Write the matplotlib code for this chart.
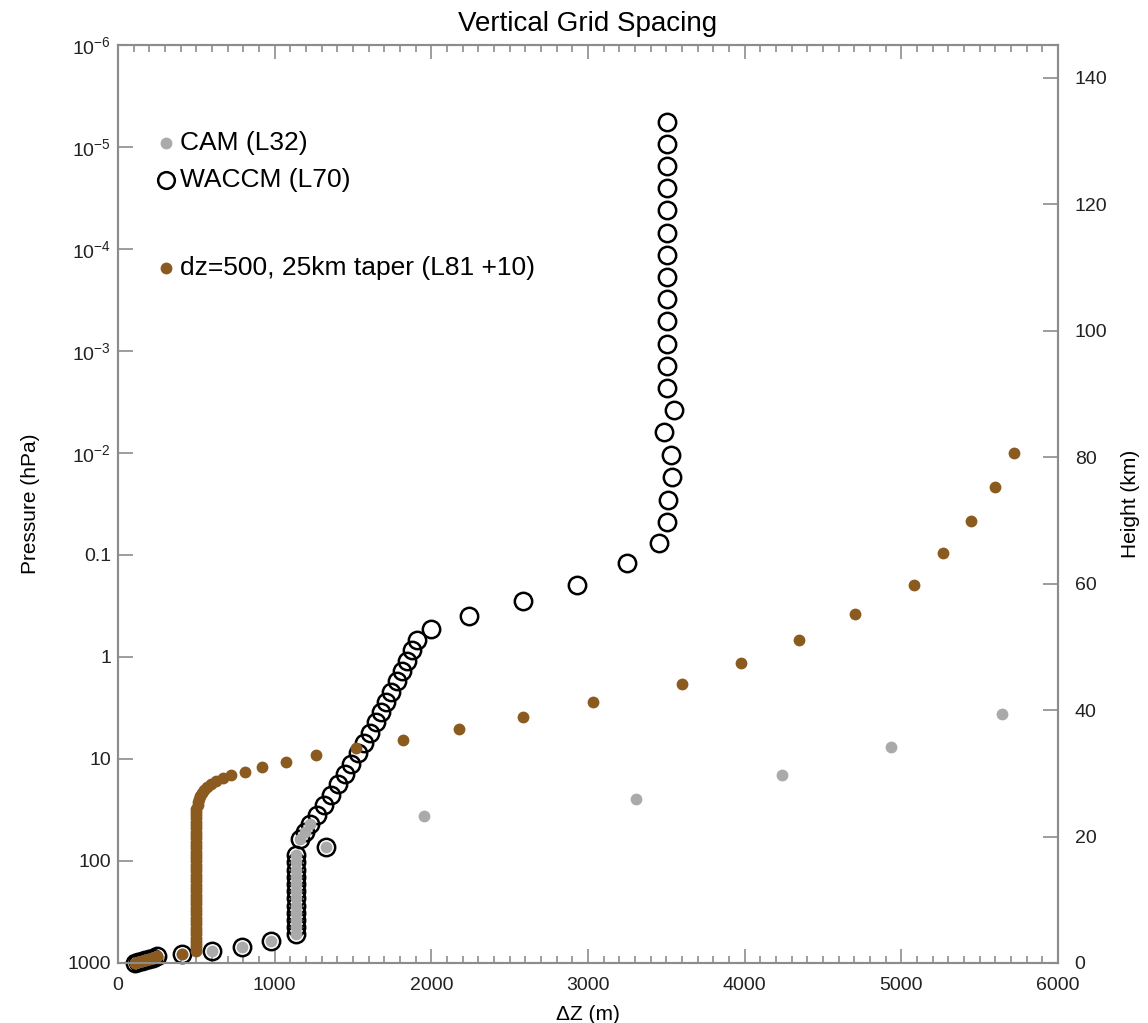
import matplotlib
matplotlib.use('Agg')
import matplotlib.pyplot as plt
from matplotlib.ticker import FixedLocator, MultipleLocator, NullLocator

plt.rcParams['font.family'] = ['Liberation Sans', 'DejaVu Sans']
plt.rcParams['mathtext.fontset'] = 'custom'
plt.rcParams['mathtext.rm'] = 'Liberation Sans'
plt.rcParams['mathtext.it'] = 'Liberation Sans'

# CAM (L32) levels: pressure (hPa) and layer thickness (m)
cam_p = [3.64, 7.59, 14.36, 24.61, 35.92, 43.19, 51.68, 61.52, 73.75, 87.82,
         103.32, 121.55, 142.99, 168.23, 197.91, 232.83, 273.91, 322.24, 379.10, 445.99,
         524.69, 609.78, 691.39, 763.40, 820.86, 859.53, 887.02, 912.64, 936.20, 957.49,
         976.33, 992.56]
cam_dz = [5645, 4936, 4240, 3308, 1954, 1226, 1194, 1162, 1328, 1137,
          1137, 1137, 1137, 1137, 1137, 1137, 1137, 1137, 1137, 1137,
          1137, 977, 792, 600, 409, 250, 225, 200, 175, 150,
          130, 110]

# WACCM (L70) levels
waccm_p = [5.69e-6, 9.35e-6, 1.54e-5, 2.52e-5, 4.15e-5, 6.97e-5, 1.15e-4, 1.88e-4,
           3.09e-4, 5.08e-4, 8.53e-4, 1.40e-3, 2.31e-3, 3.79e-3, 6.22e-3, 1.05e-2,
           1.72e-2, 2.89e-2, 4.75e-2, 7.62e-2, 0.120, 0.197, 0.282, 0.396, 0.531,
           0.681, 0.854, 1.094, 1.372, 1.719, 2.204, 2.762, 3.46, 4.34, 5.56,
           6.97, 8.73, 11.2, 14.0, 17.6, 22.5, 28.2, 35.4,
           43.19, 51.68, 61.52, 73.75, 87.82,
           103.32, 121.55, 142.99, 168.23, 197.91, 232.83, 273.91, 322.24, 379.10, 445.99,
           524.69, 609.78, 691.39, 763.40, 820.86, 859.53, 887.02, 912.64, 936.20, 957.49,
           976.33, 992.56]
waccm_dz = [3505, 3505, 3505, 3505, 3505, 3505, 3505, 3505,
            3505, 3505, 3505, 3505, 3505, 3551, 3487, 3531,
            3538, 3512, 3506, 3455, 3250, 2931, 2586, 2241, 1999,
            1909, 1877, 1842, 1810, 1778, 1743, 1711, 1680, 1648, 1609,
            1571, 1533, 1488, 1446, 1405, 1357, 1312, 1268,
            1226, 1194, 1162, 1328, 1137,
            1137, 1137, 1137, 1137, 1137, 1137, 1137, 1137, 1137, 1137,
            1137, 977, 792, 600, 409, 250, 225, 200, 175, 150,
            130, 110]

# dz=500, 25km taper (L81 +10)
new_p = [0.01, 0.0215, 0.0464, 0.0956, 0.197, 0.379, 0.681, 1.15, 1.84,
         2.76, 3.88, 5.08, 6.51, 7.80, 9.14, 10.70, 11.98, 13.41, 14.35,
         15.36, 16.44, 17.59, 18.82, 20.13, 21.54, 23.06, 24.67, 26.40, 28.24,
         30.6, 32.9, 35.5, 38.3, 41.2, 44.4, 47.9, 51.6, 55.6, 59.9,
         64.5, 69.6, 74.9, 80.8, 87.0, 93.8, 101.1, 108.9, 117.3, 126.4,
         136.3, 146.8, 158.2, 170.5, 183.7, 198.0, 213.4, 229.9, 247.8, 267.0,
         287.7, 310.0, 334.1, 360.0, 387.9, 418.0, 450.4, 485.4, 523.1, 563.6,
         607.4, 654.5, 705.3, 760.0,
         820.86, 859.53, 887.02, 912.64, 936.20, 957.49, 976.33, 992.56]
new_dz = [5722, 5601, 5447, 5268, 5083, 4706, 4349, 3978, 3602,
          3033, 2586, 2178, 1820, 1520, 1264, 1073, 920, 811, 722,
          671, 626, 594, 568, 549, 536, 524, 517, 511, 508,
          500, 500, 500, 500, 500, 500, 500, 500, 500, 500,
          500, 500, 500, 500, 500, 500, 500, 500, 500, 500,
          500, 500, 500, 500, 500, 500, 500, 500, 500, 500,
          500, 500, 500, 500, 500, 500, 500, 500, 500, 500,
          500, 500, 500, 500,
          409, 250, 225, 200, 175, 150, 130, 110]

p_ticks = [1e-6, 1e-5, 1e-4, 1e-3, 1e-2, 0.1, 1, 10, 100, 1000]
p_labels = ['$10^{-6}$', '$10^{-5}$', '$10^{-4}$', '$10^{-3}$', '$10^{-2}$',
            '0.1', '1', '10', '100', '1000']
h_ticks = [0, 20, 40, 60, 80, 100, 120, 140]

gray = '#aaaaaa'
brown = '#8a5a1f'
axcol = '#8c8c8c'

fig = plt.figure(figsize=(11.48, 10.23), dpi=100)
ax = fig.add_axes([0.1028, 0.0587, 0.8188, 0.8973])

ax.plot(waccm_dz, waccm_p, 'o', ms=12.5, mfc='none', mec='black', mew=1.8, zorder=2, clip_on=False)
ax.plot(cam_dz, cam_p, 'o', ms=8.5, color=gray, mec='none', zorder=3, clip_on=False)
ax.plot(new_dz, new_p, 'o', ms=8.5, color=brown, mec='none', zorder=4, clip_on=False)

ax.set_yscale('log')
ax.set_ylim(1000, 1e-6)
ax.set_xlim(0, 6000)
ax.yaxis.set_major_locator(FixedLocator(p_ticks))
ax.set_yticklabels(p_labels)
ax.yaxis.set_minor_locator(NullLocator())
ax.xaxis.set_major_locator(MultipleLocator(1000))
ax.xaxis.set_minor_locator(MultipleLocator(100))

ax.tick_params(axis='both', which='both', direction='in', color=axcol,
               labelcolor='#222222', labelsize=14, width=1.2)
ax.tick_params(axis='x', which='both', top=True, pad=10)
ax.tick_params(axis='x', which='major', length=10)
ax.tick_params(axis='x', which='minor', length=5)
ax.tick_params(axis='y', which='major', length=11, right=False, pad=5)
for s in ax.spines.values():
    s.set_color(axcol)
    s.set_linewidth(1.5)

ax.set_xlabel('\u0394Z (m)', fontsize=15, labelpad=8)
ax.set_ylabel('Pressure (hPa)', fontsize=15, labelpad=20)
ax.set_title('Vertical Grid Spacing', fontsize=20, pad=10)

# height axis on the right
ax2 = ax.twinx()
ax2.set_ylim(0, 145.2)
ax2.yaxis.set_major_locator(FixedLocator(h_ticks))
ax2.tick_params(axis='y', direction='in', length=11, color=axcol, width=1.2,
                labelcolor='#222222', labelsize=14, pad=12)
for s in ax2.spines.values():
    s.set_color(axcol)
    s.set_linewidth(1.5)
ax2.set_ylabel('Height (km)', fontsize=15, labelpad=10)

# legend drawn by hand
ax.plot([0.051], [0.893], 'o', ms=8.5, color=gray, mec='none', transform=ax.transAxes)
ax.text(0.066, 0.893, 'CAM (L32)', fontsize=19, va='center', transform=ax.transAxes)
ax.plot([0.051], [0.853], 'o', ms=12, mfc='none', mec='black', mew=1.8, transform=ax.transAxes)
ax.text(0.066, 0.853, 'WACCM (L70)', fontsize=19, va='center', transform=ax.transAxes)
ax.plot([0.051], [0.757], 'o', ms=8.5, color=brown, mec='none', transform=ax.transAxes)
ax.text(0.066, 0.757, 'dz=500, 25km taper (L81 +10)', fontsize=19, va='center', transform=ax.transAxes)

fig.savefig('out.png', dpi=100)
